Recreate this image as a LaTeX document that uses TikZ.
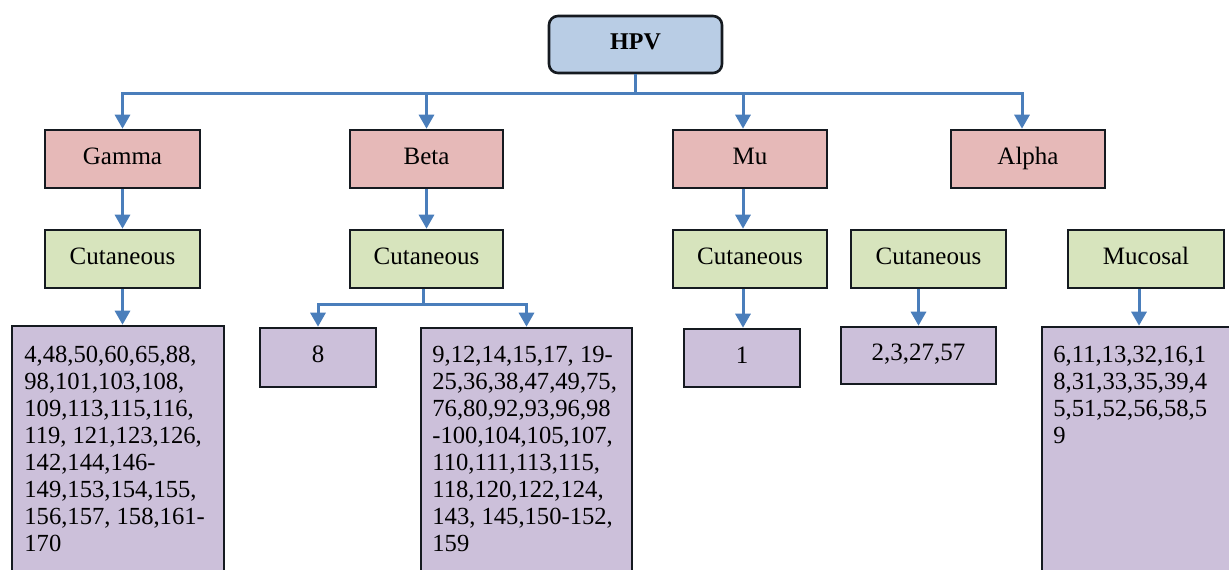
\documentclass[tikz,border=0pt]{standalone}
\usepackage{fontspec}
\setmainfont{Liberation Serif}
\usetikzlibrary{arrows.meta}
\definecolor{hpvblue}{HTML}{B9CDE5}
\definecolor{redbox}{HTML}{E6B9B8}
\definecolor{greenbox}{HTML}{D7E4BD}
\definecolor{purplebox}{HTML}{CCC0DA}
\definecolor{arrowblue}{HTML}{4A7EBB}
\definecolor{edge}{HTML}{151A20}
\tikzset{
  box/.style={draw=edge, line width=1.3pt, inner sep=0pt, text height=8pt, text depth=3pt, font=\fontsize{12.5}{14}\selectfont},
  topbox/.style={box, fill=hpvblue, rounded corners=4.5pt, font=\fontsize{12}{14}\selectfont\bfseries},
  genus/.style={box, fill=redbox},
  tissue/.style={box, fill=greenbox},
  types/.style={box, fill=purplebox},
  listtext/.style={anchor=north west, inner sep=0pt, align=left, font=\fontsize{12.3}{13.45}\selectfont},
  conn/.style={draw=arrowblue, line width=1.5pt},
  arr/.style={conn, -{Triangle[width=7.5pt,length=7pt]}}
}
\begin{document}
\begin{tikzpicture}[x=0.5pt,y=-0.5pt]
\useasboundingbox (0,0) rectangle (1229,569);
\clip (0,0) rectangle (1229,569);
\fill[white] (0,0) rectangle (1229,569);
% top
\node[topbox, minimum width=86.5pt, minimum height=28.5pt] (hpv) at (635.5,44.5) {HPV};
% genera
\node[genus, minimum width=77.5pt, minimum height=29pt] (gamma) at (122.5,159) {Gamma};
\node[genus, minimum width=76.5pt, minimum height=29pt] (beta) at (426.5,159) {Beta};
\node[genus, minimum width=77pt, minimum height=29pt] (mu) at (750,159) {Mu};
\node[genus, minimum width=77pt, minimum height=29pt] (alpha) at (1028,159) {Alpha};
% tissue
\node[tissue, minimum width=77.5pt, minimum height=29pt] (gc) at (122.5,259) {Cutaneous};
\node[tissue, minimum width=76.5pt, minimum height=29pt] (bc) at (426.5,259) {Cutaneous};
\node[tissue, minimum width=77pt, minimum height=29pt] (mc) at (750,259) {Cutaneous};
\node[tissue, minimum width=77.5pt, minimum height=29pt] (ac) at (928.5,259) {Cutaneous};
\node[tissue, minimum width=78pt, minimum height=29pt] (muc) at (1146,259) {Mucosal};
% type boxes
\node[types, minimum width=106pt, minimum height=137pt] (gl) at (118,463) {};
\node[types, minimum width=58pt, minimum height=29.5pt] (b8) at (318,357.5) {8};
\node[types, minimum width=105.5pt, minimum height=136pt] (bl) at (526.5,464) {};
\node[types, minimum width=58pt, minimum height=29pt] (m1) at (742,358) {1};
\node[types, minimum width=77.5pt, minimum height=28.5pt] (a4) at (918.5,355.5) {2,3,27,57};
\node[types, minimum width=109pt, minimum height=136.5pt] (mul) at (1151,463.5) {};
% list texts
\node[listtext] (gltext) at (24,346) {4,48,50,60,65,88,\\98,101,103,108,\\109,113,115,116,\\119, 121,123,126,\\142,144,146-\\149,153,154,155,\\156,157, 158,161-\\170};
\node[listtext] (bltext) at (432,346) {9,12,14,15,17, 19-\\25,36,38,47,49,75,\\76,80,92,93,96,98\\-100,104,105,107,\\110,111,113,115,\\118,120,122,124,\\143, 145,150-152,\\159};
\node[listtext] (multext) at (1053,346) {6,11,13,32,16,1\\8,31,33,35,39,4\\5,51,52,56,58,5\\9};
% connectors from HPV
\coordinate (hj) at (hpv.south |- 0,93);
\draw[conn] (hpv.south) -- (hj);
\draw[arr] (hj) -| (gamma.north);
\draw[arr] (hj) -| (beta.north);
\draw[arr] (hj) -| ([xshift=-3.5pt]mu.north);
\draw[arr] (hj) -| ([xshift=-3pt]alpha.north);
% genus to tissue
\draw[arr] (gamma) -- (gc);
\draw[arr] (beta) -- (bc);
\draw[arr] ([xshift=-3.5pt]mu.south) -- ([xshift=-3.5pt]mc.north);
% tissue to types
\draw[arr] (gc.south) -- (gc.south |- gl.north);
\coordinate (bj) at ([xshift=-1.75pt,yshift=-7.5pt]bc.south);
\draw[conn] ([xshift=-1.75pt]bc.south) -- (bj);
\draw[arr] (bj) -| (b8.north);
\draw[arr] (bj) -| (bl.north);
\draw[arr] ([xshift=-3.5pt]mc.south) -- ([xshift=-3.5pt]mc.south |- m1.north);
\draw[arr] (a4.north |- ac.south) -- (a4.north);
\draw[arr] ([xshift=-3.5pt]muc.south) -- ([xshift=-3.5pt]muc.south |- mul.north);
\end{tikzpicture}
\end{document}
